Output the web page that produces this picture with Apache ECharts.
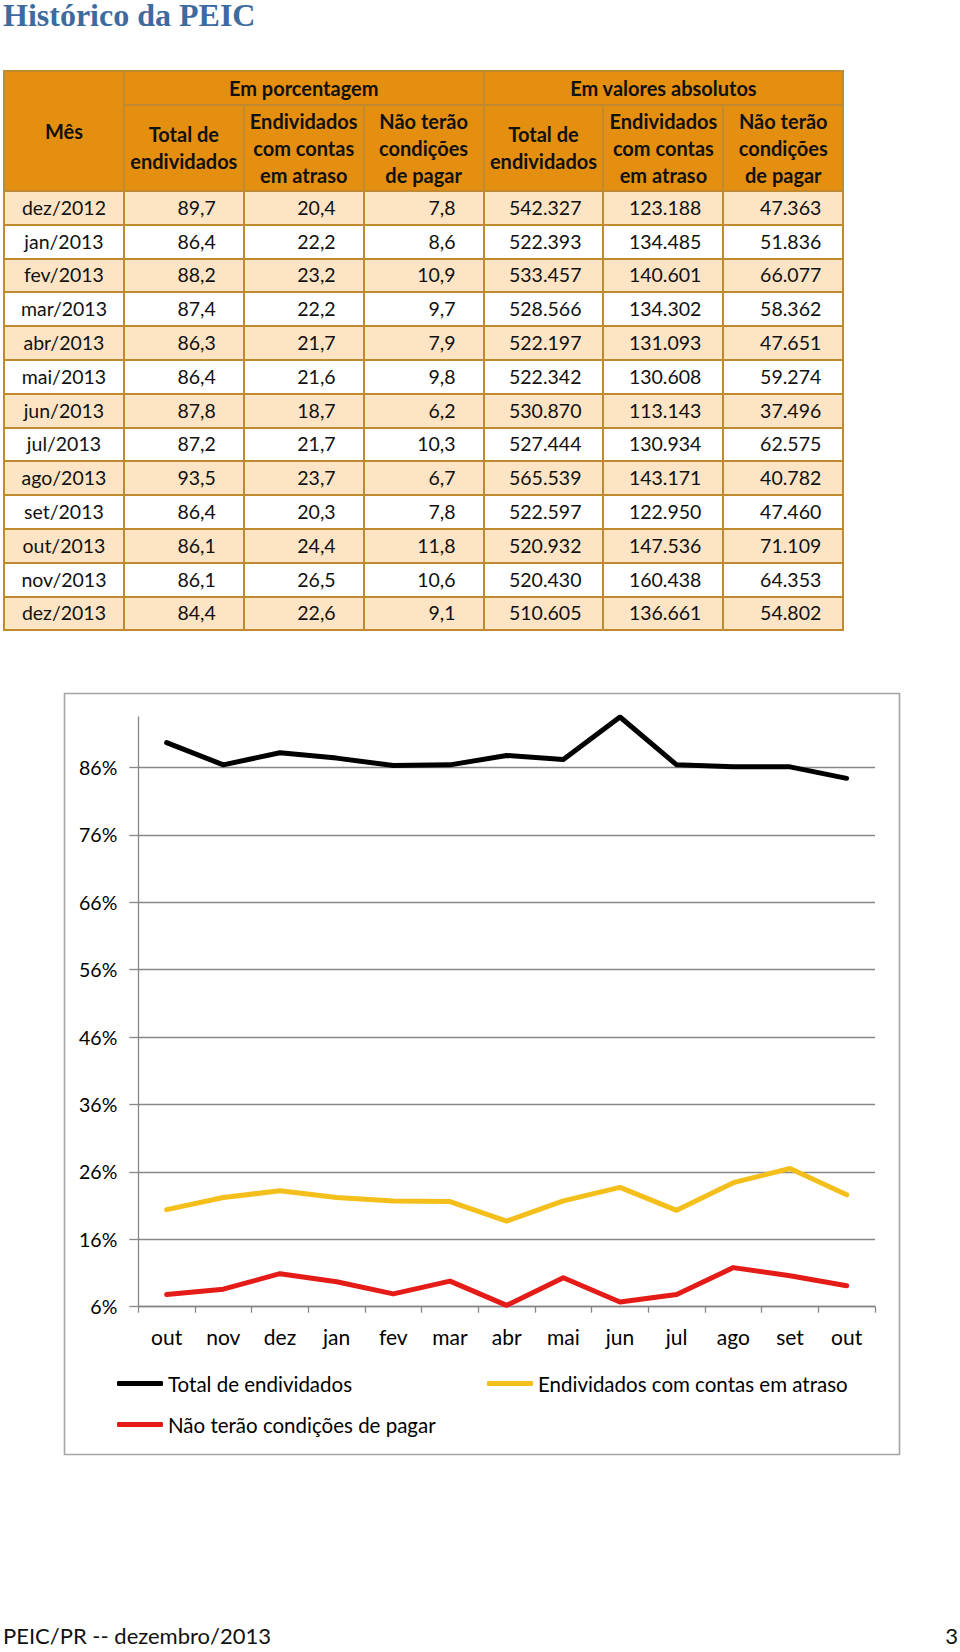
<!DOCTYPE html>
<html><head><meta charset="utf-8">
<script src="https://cdn.jsdelivr.net/npm/echarts@6/dist/echarts.min.js"></script>
<style>
html,body{margin:0;padding:0;background:#fff;}
body{width:960px;height:1652px;position:relative;overflow:hidden;font-family:Lato,"Noto Sans",sans-serif;}
#chart{position:absolute;left:0;top:0;width:960px;height:1652px;}
#title{position:absolute;left:3px;top:-1px;font:bold 32px/32px "Liberation Serif",serif;color:#3E6B9E;white-space:nowrap;}
#tbl{position:absolute;left:3px;top:70px;border-collapse:collapse;table-layout:fixed;width:839px;font-size:19.5px;color:#111;}
#tbl td,#tbl th{border:2px solid #BF8A30;padding:0;overflow:hidden;white-space:nowrap;}
#tbl th{background:#E48F10;font-weight:bold;font-size:20px;line-height:27px;text-align:center;color:#111;}
#tbl tr.h1 th{height:32px;line-height:30px;}
#tbl tr.h2 th{height:84px;}
#tbl td{height:31.8px;line-height:30px;}
#tbl td.m{text-align:center;}
#tbl td.p{text-align:right;padding-right:27px;}
#tbl td.a{text-align:right;padding-right:21px;}
#tbl tr.odd td{background:#FDE4C4;}
#tbl tr.even td{background:#fff;}
#footer{position:absolute;left:3px;top:1623px;font-size:22px;line-height:26px;color:#111;white-space:nowrap;}
#page{position:absolute;right:2px;top:1623px;font-size:22px;line-height:26px;color:#111;}
</style>
</head><body>
<div id="chart"></div>
<div id="title">Histórico da PEIC</div>
<table id="tbl"></table>
<div id="footer">PEIC/PR -- dezembro/2013</div>
<div id="page">3</div>
<script>
// ---- data ----
const months = ['dez/2012','jan/2013','fev/2013','mar/2013','abr/2013','mai/2013','jun/2013','jul/2013','ago/2013','set/2013','out/2013','nov/2013','dez/2013'];
const totalPct  = [89.7, 86.4, 88.2, 87.4, 86.3, 86.4, 87.8, 87.2, 93.5, 86.4, 86.1, 86.1, 84.4];
const atrasoPct = [20.4, 22.2, 23.2, 22.2, 21.7, 21.6, 18.7, 21.7, 23.7, 20.3, 24.4, 26.5, 22.6];
const naoPct    = [7.8, 8.6, 10.9, 9.7, 7.9, 9.8, 6.2, 10.3, 6.7, 7.8, 11.8, 10.6, 9.1];
const totalAbs  = [542327, 522393, 533457, 528566, 522197, 522342, 530870, 527444, 565539, 522597, 520932, 520430, 510605];
const atrasoAbs = [123188, 134485, 140601, 134302, 131093, 130608, 113143, 130934, 143171, 122950, 147536, 160438, 136661];
const naoAbs    = [47363, 51836, 66077, 58362, 47651, 59274, 37496, 62575, 40782, 47460, 71109, 64353, 54802];
const chartCats = ['out','nov','dez','jan','fev','mar','abr','mai','jun','jul','ago','set','out'];
const yTicks = [6, 16, 26, 36, 46, 56, 66, 76, 86];
const yMin = 6, yMax = 93.5;
const seriesNames = ['Total de endividados','Endividados com contas em atraso','Não terão condições de pagar'];

// ---- table ----
const fmtPct = v => v.toFixed(1).replace('.', ',');
const fmtAbs = n => String(n).replace(/\B(?=(\d{3})+(?!\d))/g, '.');
let html = '<colgroup>' + '<col style="width:119.9px">'.repeat(7) + '</colgroup>';
html += '<tr class="h1"><th rowspan="2">Mês</th><th colspan="3">Em porcentagem</th><th colspan="3">Em valores absolutos</th></tr>';
const sub = ['Total de<br>endividados','Endividados<br>com contas<br>em atraso','Não terão<br>condições<br>de pagar'];
html += '<tr class="h2">' + sub.concat(sub).map(s => '<th>' + s + '</th>').join('') + '</tr>';
months.forEach((m, i) => {
  html += '<tr class="' + (i % 2 === 0 ? 'odd' : 'even') + '">' +
    '<td class="m">' + m + '</td>' +
    '<td class="p">' + fmtPct(totalPct[i]) + '</td>' +
    '<td class="p">' + fmtPct(atrasoPct[i]) + '</td>' +
    '<td class="p">' + fmtPct(naoPct[i]) + '</td>' +
    '<td class="a">' + fmtAbs(totalAbs[i]) + '</td>' +
    '<td class="a">' + fmtAbs(atrasoAbs[i]) + '</td>' +
    '<td class="a">' + fmtAbs(naoAbs[i]) + '</td></tr>';
});
document.getElementById('tbl').innerHTML = html;

// ---- chart ----
const chart = echarts.init(document.getElementById('chart'), null, {renderer: 'svg'});
const axisGrey = '#878787';
const font = 'Lato';
const colors = ['#000000', '#F4BF1A', '#E41B17'];
const legendBase = {
  orient: 'horizontal', padding: 0, itemWidth: 46, itemHeight: 5, icon: 'roundRect',
  textStyle: {fontFamily: font, fontSize: 20.5, color: '#000'}, selectedMode: false
};
chart.setOption({
  animation: false,
  grid: {left: 138.3, right: 85, top: 717, bottom: 345.3, containLabel: false},
  xAxis: {
    type: 'category', data: chartCats, boundaryGap: true,
    axisLine: {lineStyle: {color: axisGrey, width: 1.3}},
    axisTick: {show: true, length: 6, lineStyle: {color: axisGrey, width: 1.3}},
    axisLabel: {margin: 19, fontSize: 21, fontFamily: font, color: '#000', interval: 0},
    splitLine: {show: false}
  },
  yAxis: {
    type: 'value', min: yMin, max: yMax, interval: 10,
    axisLine: {show: true, lineStyle: {color: axisGrey, width: 1.3}},
    axisTick: {show: true, length: 9, lineStyle: {color: axisGrey, width: 1.3}, customValues: yTicks},
    axisLabel: {margin: 21, fontSize: 19.5, fontFamily: font, color: '#000', formatter: v => v + '%', customValues: yTicks},
    splitLine: {show: true, lineStyle: {color: axisGrey, width: 1.3}}
  },
  legend: [
    Object.assign({}, legendBase, {data: [seriesNames[0]], left: 117, top: 1373}),
    Object.assign({}, legendBase, {data: [seriesNames[1]], left: 487, top: 1373}),
    Object.assign({}, legendBase, {data: [seriesNames[2]], left: 117, top: 1414})
  ],
  graphic: [{
    type: 'rect', silent: true, z: -1,
    shape: {x: 64.5, y: 693.5, width: 835, height: 761},
    style: {fill: 'none', stroke: '#A5A5A5', lineWidth: 1.6}
  }],
  series: [
    {name: seriesNames[0], type: 'line', data: totalPct, symbol: 'none', color: colors[0],
     lineStyle: {width: 5, color: colors[0], cap: 'round', join: 'round'}},
    {name: seriesNames[1], type: 'line', data: atrasoPct, symbol: 'none', color: colors[1],
     lineStyle: {width: 5, color: colors[1], cap: 'round', join: 'round'}},
    {name: seriesNames[2], type: 'line', data: naoPct, symbol: 'none', color: colors[2],
     lineStyle: {width: 5, color: colors[2], cap: 'round', join: 'round'}}
  ]
});
</script>
</body></html>
